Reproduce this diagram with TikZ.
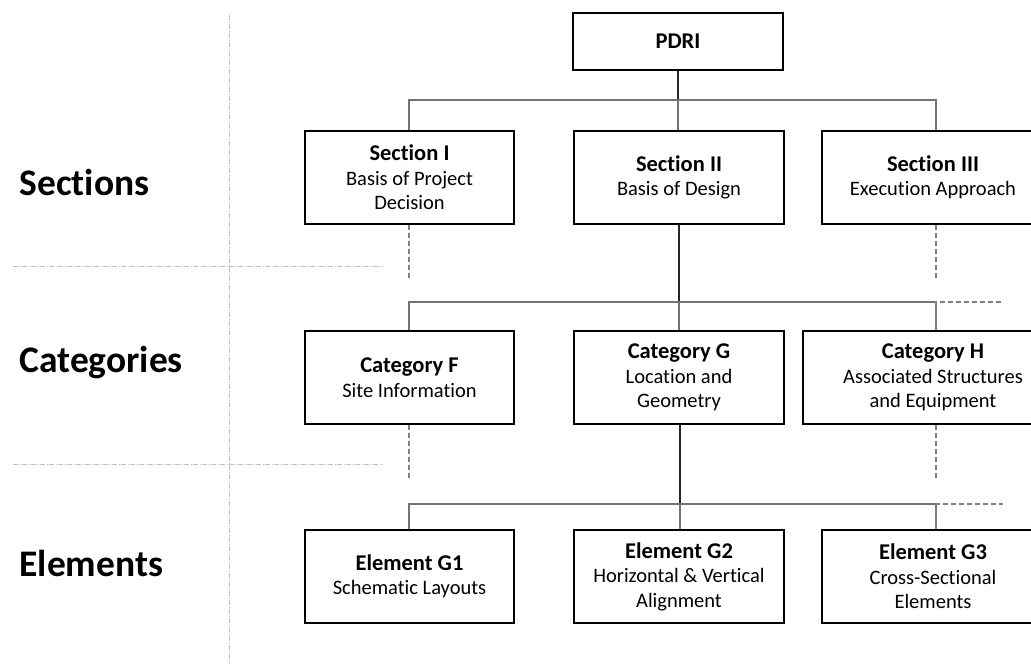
\documentclass[tikz,border=0pt]{standalone}
\usepackage{fontspec}
\setmainfont{Carlito}[Ligatures={NoCommon}]
\begin{document}
\begin{tikzpicture}[x=1pt,y=-1pt,
  box/.style={draw=black,line width=1.3pt,fill=white,align=center,inner sep=0pt,
    font=\fontsize{20.5}{24.5}\selectfont},
  side/.style={anchor=west,font=\fontsize{37.5}{40}\selectfont\bfseries},
  conn/.style={draw=black!55,line width=1.1pt},
  mainconn/.style={draw=black!85,line width=1.3pt},
  dconn/.style={draw=black!50,line width=1.1pt,dash pattern=on 5pt off 3pt},
  sep/.style={draw=blue!20!black!25,line width=1pt,dash pattern=on 5pt off 1.5pt on 1pt off 1.5pt}]
\useasboundingbox (0,0) rectangle (1031,664);
\clip (0,0) rectangle (1031,664);
\newcommand{\bt}[1]{{\fontsize{22.5}{24.5}\selectfont\bfseries #1}}
% separators
\draw[sep] (13,266) -- (383,266);
\draw[sep] (13,464) -- (383,464);
\draw[sep] (229,15) -- (229,664);
% side labels
\node[side] (lsec) at (16,182) {Sections};
\node[side] (lcat) at (16,363) {Categories};
\node[side] (lel) at (16,563) {Elements};
% boxes
\node[box,minimum width=210pt,minimum height=57pt] (pdri) at (678,41.5) {\bt{PDRI}};
\node[box,minimum width=209pt,minimum height=93pt] (s1) at (409.5,177.5) {\bt{Section I}\\Basis of Project\\Decision};
\node[box,minimum width=210pt,minimum height=93pt] (s2) at (679,177.5) {\bt{Section II}\\Basis of Design};
\node[box,minimum width=222pt,minimum height=93pt] (s3) at (933,177.5) {\bt{Section III}\\Execution Approach};
\node[box,minimum width=209pt,minimum height=93pt] (c1) at (409.5,377.5) {\bt{Category F}\\Site Information};
\node[box,minimum width=210pt,minimum height=93pt] (c2) at (679,377.5) {\bt{Category G}\\Location and\\Geometry};
\node[box,minimum width=260pt,minimum height=93pt] (c3) at (933,377.5) {\bt{Category H}\\Associated Structures\\and Equipment};
\node[box,minimum width=209pt,minimum height=93pt] (e1) at (409.5,576.5) {\bt{Element G1}\\Schematic Layouts};
\node[box,minimum width=210pt,minimum height=93pt] (e2) at (679,576.5) {\bt{Element G2}\\Horizontal \& Vertical\\Alignment};
\node[box,minimum width=222pt,minimum height=93pt] (e3) at (933,576.5) {\bt{Element G3}\\Cross-Sectional\\Elements};
% junction coordinates
\coordinate (j0) at (678,100);
\coordinate (j1) at (679,302);
\coordinate (j2) at (680,504);
\coordinate (d1) at (1003,302);
\coordinate (d2) at (1003,504);
\coordinate (t1) at (409,278);
\coordinate (t3) at (936,278);
\coordinate (u1) at (409,478);
\coordinate (u3) at (936,478);
% level 1
\draw[mainconn] (pdri.south) -- (j0);
\draw[conn] (s1.north -| t1) |- (j0) -| (s3.north -| t3);
\draw[conn] (j0) -- (s2.north -| j0);
\draw[dconn] (s1.south -| t1) -- (t1);
\draw[dconn] (s3.south -| t3) -- (t3);
% level 2
\draw[mainconn] (s2.south -| j1) -- (j1);
\draw[conn] (c1.north -| t1) |- (j1) -| (c3.north -| t3);
\draw[conn] (j1) -- (c2.north -| j1);
\draw[dconn] (c3.north -| t3) |- (d1);
\draw[dconn] (c1.south -| u1) -- (u1);
\draw[dconn] (c3.south -| u3) -- (u3);
% level 3
\draw[mainconn] (c2.south -| j2) -- (j2);
\draw[conn] (e1.north -| u1) |- (j2) -| (e3.north -| u3);
\draw[conn] (j2) -- (e2.north -| j2);
\draw[dconn] (e3.north -| u3) |- (d2);
\end{tikzpicture}
\end{document}
